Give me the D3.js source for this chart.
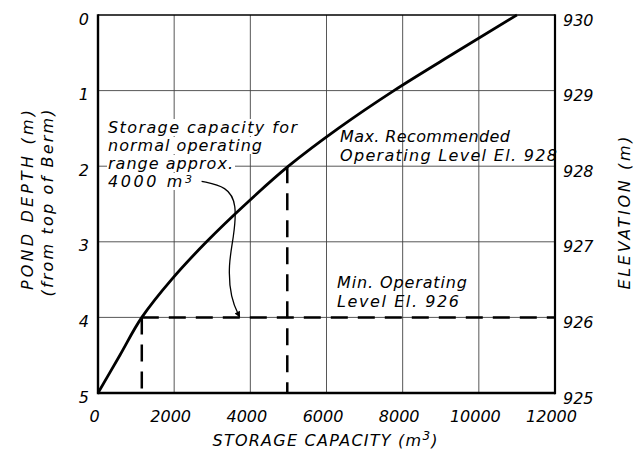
<!DOCTYPE html>
<html>
<head>
<meta charset="utf-8">
<script src="https://cdn.jsdelivr.net/npm/d3@7"></script>
<style>
  body { margin: 0; background: #fff; }
  svg text { font-family: "DejaVu Sans", sans-serif; font-style: italic; fill: #000; }
</style>
</head>
<body>
<div id="chart"></div>
<script>
// storage curve (depth below berm, m -> capacity, m3)
var depths     = [0, 0.5, 1, 1.5, 2, 2.5, 3, 3.5, 4, 4.5, 5];
var capacities = [11000, 9370, 7770, 6310, 5000, 3880, 2850, 1930, 1150, 575, 0];

var capTicks   = [0, 2000, 4000, 6000, 8000, 10000, 12000];
var depthTicks = [0, 1, 2, 3, 4, 5];
var elevTicks  = [930, 929, 928, 927, 926, 925];

// operating levels
var maxLevel = {depth: 2, cap: 4970};
var minLevel = {depth: 4, cap: 1150};

// leader arrow for the "approx. 4000 m3" note, in data units (cap, depth)
var arrowPts = [[2720, 2.20], [3390, 2.27], [3650, 2.50], [3560, 2.95],
                [3420, 3.30], [3480, 3.75], [3720, 3.995]];

// text: [text, superscript, width]
var noteLines = [["Storage capacity for", "", 189], ["normal operating", "", 154],
                 ["range approx.", "", 125], ["4000 m", "3", 84]];
var maxLines = [["Max. Recommended", "", 170], ["Operating Level El. 928", "", 217]];
var minLines = [["Min. Operating", "", 130], ["Level El. 926", "", 122]];

var width = 634, height = 459;
var svg = d3.select("#chart").append("svg")
    .attr("width", width)
    .attr("height", height);

var x = d3.scaleLinear().domain([0, 12000]).range([98, 555]);
var y = d3.scaleLinear().domain([0, 5]).range([15, 393]);
var yElev = d3.scaleLinear().domain([930, 925]).range([15, 393]);

// grid
var grid = svg.append("g").attr("stroke", "#444").attr("stroke-width", 0.9);
grid.selectAll(".vg")
    .data(capTicks.slice(1, -1))
    .enter().append("line")
    .attr("x1", function (d) { return x(d); })
    .attr("x2", function (d) { return x(d); })
    .attr("y1", y(0)).attr("y2", y(5));
grid.selectAll(".hg")
    .data(depthTicks.slice(1, -1))
    .enter().append("line")
    .attr("y1", function (d) { return y(d); })
    .attr("y2", function (d) { return y(d); })
    .attr("x1", x(0)).attr("x2", x(12000));

function addText(parent, line, x0, y0) {
    var txt = parent.append("text")
        .attr("x", x0)
        .attr("y", y0)
        .attr("font-size", "16px")
        .attr("textLength", line[2])
        .attr("lengthAdjust", "spacing");
    txt.append("tspan").text(line[0]);
    if (line[1]) {
        txt.append("tspan").attr("dy", "-4.5").attr("font-size", "11px").text(line[1]);
    }
    return txt;
}

// note block with knocked-out background per line
var note = svg.append("g");
noteLines.forEach(function (l, i) {
    var txt = addText(note, l, 108, 133 + i * 18);
    var bb = txt.node().getBBox();
    note.insert("rect", "text")
        .attr("x", bb.x - 1).attr("y", bb.y + 1)
        .attr("width", bb.width + 3).attr("height", bb.height - 2)
        .attr("fill", "#fff");
});

maxLines.forEach(function (l, i) { addText(svg, l, 340, 142 + i * 18.5); });
minLines.forEach(function (l, i) { addText(svg, l, 337, 288 + i * 18.5); });

// dashed operating levels
var dash = svg.append("g")
    .attr("stroke", "#000")
    .attr("stroke-width", 2.5)
    .attr("stroke-dasharray", "17,10")
    .attr("fill", "none");
dash.append("line")
    .attr("x1", x(minLevel.cap)).attr("x2", x(12000))
    .attr("y1", y(minLevel.depth)).attr("y2", y(minLevel.depth));
dash.selectAll(".vd")
    .data([minLevel, maxLevel])
    .enter().append("line")
    .attr("x1", function (d) { return x(d.cap); })
    .attr("x2", function (d) { return x(d.cap); })
    .attr("y1", function (d) { return y(d.depth); })
    .attr("y2", y(5));

// storage curve
var curveData = depths.map(function (d, i) { return {depth: d, cap: capacities[i]}; });
svg.append("path")
    .datum(curveData)
    .attr("fill", "none")
    .attr("stroke", "#000")
    .attr("stroke-width", 2.8)
    .attr("d", d3.line()
        .x(function (d) { return x(d.cap); })
        .y(function (d) { return y(d.depth); })
        .curve(d3.curveMonotoneY));

// leader arrow
svg.append("defs").append("marker")
    .attr("id", "ah")
    .attr("viewBox", "0 0 10 10")
    .attr("refX", 9).attr("refY", 5)
    .attr("markerWidth", 9).attr("markerHeight", 6)
    .attr("markerUnits", "userSpaceOnUse")
    .attr("orient", "auto")
    .append("path")
    .attr("d", "M0,0L10,5L0,10z")
    .attr("fill", "#000");

svg.append("path")
    .datum(arrowPts)
    .attr("fill", "none")
    .attr("stroke", "#000")
    .attr("stroke-width", 1.3)
    .attr("marker-end", "url(#ah)")
    .attr("d", d3.line()
        .x(function (d) { return x(d[0]); })
        .y(function (d) { return y(d[1]); })
        .curve(d3.curveBasis));

// frame
var frame = svg.append("g").attr("stroke", "#000").attr("fill", "none");
frame.append("line").attr("x1", x(0)).attr("x2", x(12000)).attr("y1", y(0)).attr("y2", y(0)).attr("stroke-width", 1.6);
frame.append("line").attr("x1", x(0)).attr("x2", x(12000)).attr("y1", y(5)).attr("y2", y(5)).attr("stroke-width", 2.6);
frame.append("line").attr("x1", x(0)).attr("x2", x(0)).attr("y1", y(0) - 0.8).attr("y2", y(5) + 1.3).attr("stroke-width", 2.4);
frame.append("line").attr("x1", x(12000)).attr("x2", x(12000)).attr("y1", y(0) - 0.8).attr("y2", y(5) + 1.3).attr("stroke-width", 2.2);

// axes (labels only; frame drawn above)
var axL = svg.append("g")
    .attr("transform", "translate(" + x(0) + ",0)")
    .call(d3.axisLeft(y).tickValues(depthTicks).tickSize(0).tickPadding(9).tickFormat(d3.format("d")));
axL.selectAll("text").attr("dy", "9px").attr("font-size", "16px");

var axR = svg.append("g")
    .attr("transform", "translate(" + x(12000) + ",0)")
    .call(d3.axisRight(yElev).tickValues(elevTicks).tickSize(0).tickPadding(8).tickFormat(d3.format("d")));
axR.selectAll("text").attr("dy", "10px").attr("font-size", "16px");

var axB = svg.append("g")
    .attr("transform", "translate(0," + y(5) + ")")
    .call(d3.axisBottom(x).tickValues(capTicks).tickSize(0).tickPadding(0).tickFormat(d3.format("d")));
axB.selectAll("text").attr("dy", "29px").attr("dx", "-4px").attr("font-size", "16px");

svg.selectAll(".domain").remove();
svg.selectAll(".tick text").attr("font-family", "DejaVu Sans").attr("font-style", "italic").attr("fill", "#000");

// axis titles
var xt = svg.append("text")
    .attr("x", 325).attr("y", 446)
    .attr("text-anchor", "middle")
    .attr("font-size", "16px")
    .attr("textLength", 225).attr("lengthAdjust", "spacing");
xt.append("tspan").text("STORAGE CAPACITY (m");
xt.append("tspan").attr("dy", "-6").attr("font-size", "12px").text("3");
xt.append("tspan").attr("dy", "6").text(")");

svg.append("text")
    .attr("transform", "translate(33,200) rotate(-90)")
    .attr("text-anchor", "middle")
    .attr("font-size", "16px")
    .attr("textLength", 180).attr("lengthAdjust", "spacing")
    .text("POND DEPTH (m)");

svg.append("text")
    .attr("transform", "translate(53,203) rotate(-90)")
    .attr("text-anchor", "middle")
    .attr("font-size", "16px")
    .attr("textLength", 187).attr("lengthAdjust", "spacing")
    .text("(from top of Berm)");

svg.append("text")
    .attr("transform", "translate(630,213) rotate(-90)")
    .attr("text-anchor", "middle")
    .attr("font-size", "16px")
    .attr("textLength", 153).attr("lengthAdjust", "spacing")
    .text("ELEVATION (m)");
</script>
</body>
</html>
